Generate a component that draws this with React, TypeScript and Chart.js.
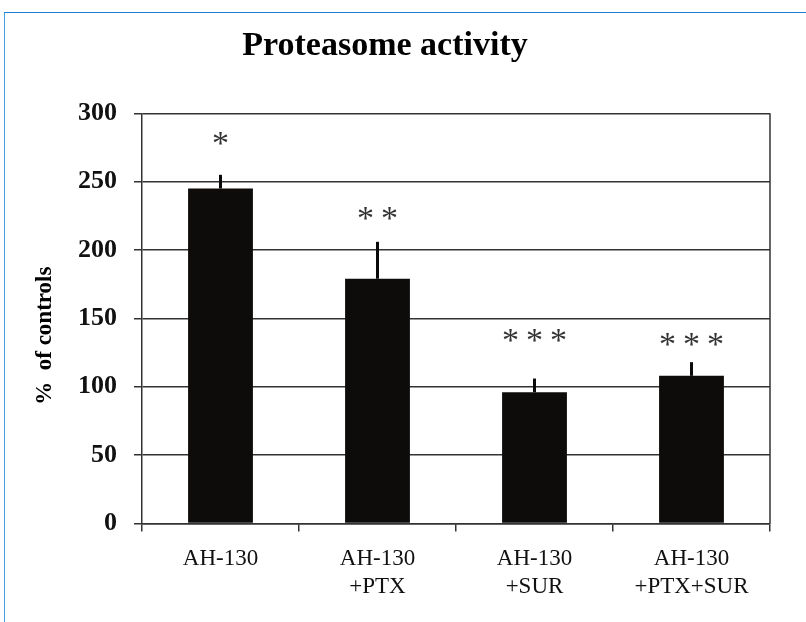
import React, { useEffect, useRef } from 'react';
import { Chart, registerables } from 'chart.js';

Chart.register(...registerables);

const categories: string[][] = [['AH-130'], ['AH-130', '+PTX'], ['AH-130', '+SUR'], ['AH-130', '+PTX+SUR']];
const activity: number[] = [245, 179, 96, 108];
const errors: number[] = [10, 27, 10, 10];
const starLevels: number[] = [282, 227, 138, 135];
const starCounts: number[] = [1, 2, 3, 3];
const yMin = 0;
const yMax = 300;
const yStep = 50;

const SERIF = "'Liberation Serif', 'Times New Roman', Times, serif";
const LINE = '#333333';

const errorBarPlugin = {
  id: 'errorBars',
  afterDatasetsDraw(chart: any) {
    const { ctx, chartArea, scales } = chart;
    const y = scales.y;
    const meta = chart.getDatasetMeta(0);
    ctx.save();
    ctx.strokeStyle = '#0a0a0a';
    ctx.lineWidth = 3;
    ctx.lineCap = 'butt';
    meta.data.forEach((el: any, i: number) => {
      const y0 = y.getPixelForValue(activity[i]);
      const y1 = y.getPixelForValue(activity[i] + errors[i]);
      ctx.beginPath();
      ctx.moveTo(el.x, y0);
      ctx.lineTo(el.x, y1);
      ctx.stroke();
    });
    // right border of plot area
    ctx.strokeStyle = LINE;
    ctx.lineWidth = 1.5;
    ctx.beginPath();
    ctx.moveTo(chartArea.right, chartArea.top);
    ctx.lineTo(chartArea.right, chartArea.bottom);
    ctx.stroke();
    ctx.restore();
  },
};

const starsPlugin = {
  id: 'stars',
  afterDraw(chart: any) {
    const { ctx, scales } = chart;
    const y = scales.y;
    const meta = chart.getDatasetMeta(0);
    const size = 34;
    ctx.save();
    ctx.fillStyle = '#333333';
    ctx.font = `${size}px ${SERIF}`;
    ctx.textAlign = 'center';
    ctx.textBaseline = 'alphabetic';
    meta.data.forEach((el: any, i: number) => {
      const n = starCounts[i];
      const cy = y.getPixelForValue(starLevels[i]);
      for (let k = 0; k < n; k++) {
        const cx = el.x + (k - (n - 1) / 2) * 24;
        ctx.fillText('*', cx, cy + size * 0.47);
      }
    });
    ctx.restore();
  },
};

export default function App() {
  const ref = useRef<HTMLCanvasElement | null>(null);

  useEffect(() => {
    if (!ref.current) return;
    const chart = new Chart(ref.current, {
      type: 'bar',
      data: {
        labels: categories,
        datasets: [
          {
            data: activity,
            backgroundColor: '#0e0c0b',
            borderColor: '#0e0c0b',
            borderWidth: 0,
            categoryPercentage: 1,
            barPercentage: 0.413,
          },
        ],
      },
      options: {
        animation: false,
        responsive: false,
        devicePixelRatio: 1,
        layout: { padding: { left: 0, right: 8, top: 0, bottom: 0 } },
        plugins: {
          legend: { display: false },
          tooltip: { enabled: false },
          title: {
            display: true,
            text: 'Proteasome activity',
            color: '#000',
            font: { family: SERIF, size: 34, weight: 'bold' },
            padding: { top: 26, bottom: 46.5 },
          },
        },
        scales: {
          x: {
            offset: true,
            grid: {
              offset: true,
              drawOnChartArea: false,
              drawTicks: true,
              tickLength: 8,
              color: LINE,
              lineWidth: 1.5,
            },
            border: { display: true, color: LINE, width: 1.5 },
            ticks: {
              color: '#111',
              padding: 14,
              maxRotation: 0,
              autoSkip: false,
              font: { family: SERIF, size: 23, lineHeight: 1.2 },
            },
            afterFit: (s: any) => {
              s.height = 98.5;
            },
          },
          y: {
            min: yMin,
            max: yMax,
            grid: { color: LINE, lineWidth: 1.5, tickLength: 8 },
            border: { display: true, color: LINE, width: 1.5 },
            ticks: {
              stepSize: yStep,
              color: '#111',
              padding: 17,
              font: { family: SERIF, size: 26, weight: 'bold' },
            },
            title: {
              display: true,
              text: '%  of controls      ',
              color: '#000',
              font: { family: SERIF, size: 23, weight: 'bold', lineHeight: 1.2 },
              padding: { top: 31, bottom: 0 },
            },
            afterFit: (s: any) => {
              s.width = 142;
            },
          },
        },
      },
      plugins: [errorBarPlugin, starsPlugin],
    } as any);
    return () => chart.destroy();
  }, []);

  return (
    <div style={{ position: 'absolute', left: 0, top: 0, width: 806, height: 622, background: '#fff', overflow: 'hidden' }}>
      <div
        style={{
          position: 'absolute',
          left: 4,
          top: 12,
          width: 802,
          height: 610,
          borderTop: '1px solid #1a7fd0',
          borderLeft: '1px solid #4a9ede',
          boxSizing: 'border-box',
        }}
      />
      <canvas ref={ref} width={778} height={622} style={{ position: 'absolute', left: 0, top: 0, width: 778, height: 622 }} />
    </div>
  );
}
